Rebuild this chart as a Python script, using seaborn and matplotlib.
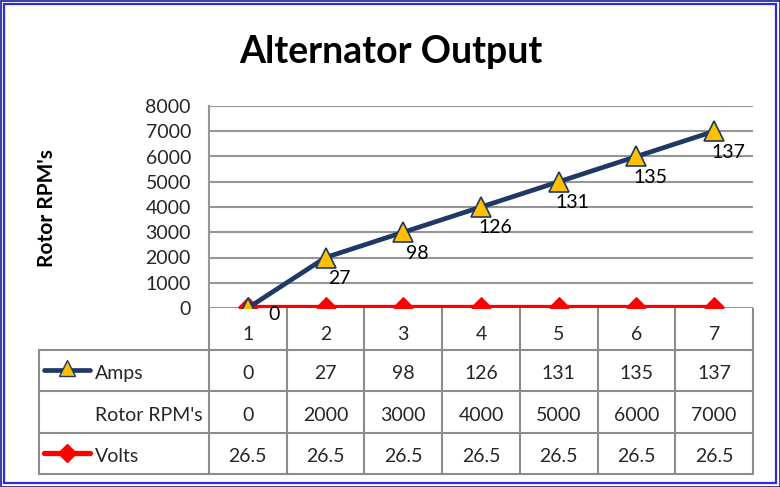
import matplotlib
matplotlib.use("Agg")
import matplotlib.pyplot as plt
from matplotlib.patches import Rectangle
from matplotlib.lines import Line2D
import seaborn as sns
import numpy as np

# ---- data ----
categories = [1, 2, 3, 4, 5, 6, 7]
amps = [0, 27, 98, 126, 131, 135, 137]
rotor_rpm = [0, 2000, 3000, 4000, 5000, 6000, 7000]
volts = [26.5, 26.5, 26.5, 26.5, 26.5, 26.5, 26.5]
yticks = [0, 1000, 2000, 3000, 4000, 5000, 6000, 7000, 8000]
title = "Alternator Output"
ylabel = "Rotor RPM's"
row_names = ["Amps", "Rotor RPM's", "Volts"]

sns.set_theme(style="white")
plt.rcParams['font.family'] = ['Lato', 'DejaVu Sans']

W, H = 780, 487
fig = plt.figure(figsize=(W / 100, H / 100), dpi=100)

def fx(px):
    return px / W

def fy(py):
    return 1 - py / H

NAVY = '#1F3864'
GOLD = '#FFC000'
RED = '#FF0000'
GRID = '#969696'
FS = 14

# plot area
pl, pr, pt, pb = 209, 753, 106, 308
ax = fig.add_axes([fx(pl), fy(pb), fx(pr - pl), (pb - pt) / H])
ax.set_xlim(0.5, 7.5)
ax.set_ylim(0, 8000)
for s in ['top', 'right', 'bottom']:
    ax.spines[s].set_visible(False)
ax.spines['left'].set_color(GRID)
ax.spines['left'].set_linewidth(1.5)
ax.set_yticks(yticks)
ax.set_yticklabels([str(v) for v in yticks], fontsize=FS)
ax.tick_params(axis='y', length=0, pad=13)
ax.set_xticks([])
ax.grid(False)
for v in yticks:
    ax.axhline(v, color=GRID, lw=1.5, zorder=0)

sns.lineplot(x=categories, y=volts, ax=ax, color=RED, lw=3.8, marker='D',
             markersize=10, markerfacecolor=RED, markeredgecolor=RED, zorder=3,
             legend=False)
sns.lineplot(x=categories, y=rotor_rpm, ax=ax, color=NAVY, lw=3.4, marker='^',
             markersize=14, markerfacecolor=GOLD, markeredgecolor=NAVY,
             markeredgewidth=1.2, zorder=4, legend=False)
ax.set_xlim(0.5, 7.5)
ax.set_ylim(0, 8000)
ax.set_xlabel("")
ax.set_ylabel("")

for i, (c, a, r) in enumerate(zip(categories, amps, rotor_rpm)):
    off = (19, -5) if i == 0 else (10, -15)
    ax.annotate(str(a), (c, r), xytext=off, textcoords='offset points',
                ha='center', va='center', fontsize=FS, color='black', zorder=5,
                annotation_clip=False)

# y label
fig.text(fx(47), fy(208), ylabel, rotation=90, ha='center', va='center',
         fontsize=15, fontweight='bold', color='black')

# title
fig.text(fx(391), fy(52), title, ha='center', va='center', fontsize=27,
         fontweight='bold', color='black')

# data table
tl, tr, tt, tb = 39, 753, 308, 474
tax = fig.add_axes([fx(tl), fy(tb), fx(tr - tl), (tb - tt) / H])
unit = (pr - pl) / 7.0
x_left = 0.5 - (pl - tl) / unit
tax.set_xlim(x_left, 7.5)
tax.set_ylim(4, 0)
tax.axis('off')

def px2x(px):
    return 0.5 + (px - pl) / unit

TL = '#8C8C8C'
TW = 1.5
for k in range(len(categories) + 1):
    tax.plot([k + 0.5, k + 0.5], [0, 4], color=TL, lw=TW, solid_capstyle='butt',
             clip_on=False)
tax.plot([x_left, x_left], [1, 4], color=TL, lw=TW, clip_on=False)
for r in [1, 2, 3, 4]:
    tax.plot([x_left, 7.5], [r, r], color=TL, lw=TW, clip_on=False)

dy = 0.08
for c in categories:
    tax.text(c, 0.55 + dy, str(c), ha='center', va='center', fontsize=FS)
rows = [amps, rotor_rpm, volts]
for ri, vals in enumerate(rows):
    for c, v in zip(categories, vals):
        tax.text(c, ri + 1.5 + dy, str(v), ha='center', va='center', fontsize=FS)

xtext = px2x(95)
for ri, name in enumerate(row_names):
    tax.text(xtext, ri + 1.5 + dy, name, ha='left', va='center', fontsize=FS)
tax.add_line(Line2D([px2x(44), px2x(90)], [1.5, 1.5], color=NAVY, lw=3.4,
                    solid_capstyle='round', clip_on=False))
tax.add_line(Line2D([px2x(67)], [1.45], marker='^', markersize=12,
                    markerfacecolor=GOLD, markeredgecolor=NAVY, lw=0,
                    clip_on=False))
tax.add_line(Line2D([px2x(44), px2x(90)], [3.5, 3.5], color=RED, lw=3.8,
                    solid_capstyle='round', clip_on=False))
tax.add_line(Line2D([px2x(67)], [3.5], marker='D', markersize=9,
                    markerfacecolor=RED, markeredgecolor=RED, lw=0,
                    clip_on=False))

# double blue border
fig.patches.append(Rectangle((0.5 / W, 0.5 / H), 1 - 1 / W, 1 - 1 / H,
                             transform=fig.transFigure, fill=False,
                             edgecolor='#1A1A9C', lw=1.2))
fig.patches.append(Rectangle((4 / W, 4 / H), 1 - 8 / W, 1 - 8 / H,
                             transform=fig.transFigure, fill=False,
                             edgecolor='#2B2BE0', lw=1.6))

fig.savefig("out.png", dpi=100)
